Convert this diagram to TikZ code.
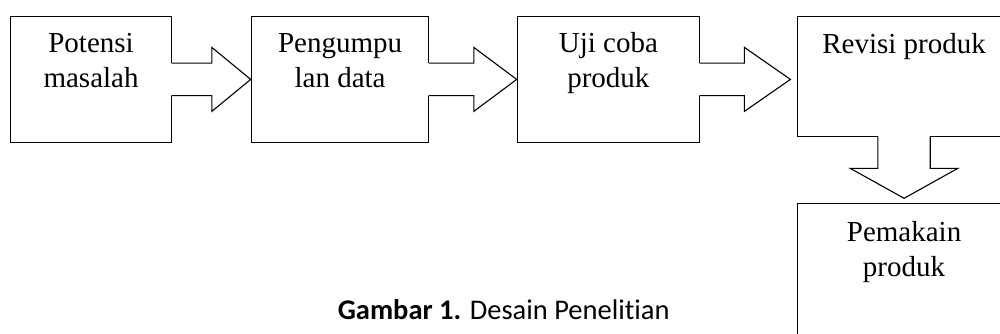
\documentclass[tikz,border=0pt]{standalone}
\usepackage{fontspec}
\setmainfont{Liberation Serif}
\newfontfamily\capfont[Ligatures=NoCommon]{Carlito}
\usetikzlibrary{calc}
\begin{document}
\begin{tikzpicture}[x=1pt,y=-1pt,
  box/.style={draw, line width=1.1pt, anchor=north west, inner sep=0pt},
  lbl/.style={align=center, anchor=base, inner sep=0pt, font=\fontsize{29}{35}\selectfont},
  arrowfill/.style={fill=white, draw=none},
  arrowline/.style={draw, line width=1.1pt, line join=miter}]
\useasboundingbox (0,0) rectangle (1000,334);
\clip (0,0) rectangle (1000,334);
% boxes
\node[box, minimum width=161pt, minimum height=126.3pt] (b1) at (10,15.7) {};
\node[box, minimum width=177.6pt, minimum height=126.3pt] (b2) at (250.7,15.7) {};
\node[box, minimum width=182.3pt, minimum height=126.3pt] (b3) at (516.7,15.7) {};
\node[box, minimum width=213.6pt, minimum height=120pt] (b4) at (796.7,15.7) {};
\node[box, minimum width=213.6pt, minimum height=150pt] (b5) at (796.7,203.3) {};
% labels (base = baseline of last line)
\node[lbl] (t1) at ($(b1.north)+(0,72.2)$) {Potensi\\masalah};
\node[lbl] (t2) at ($(b2.north)+(0,72.2)$) {Pengumpu\\lan data};
\node[lbl] (t3) at ($(b3.north)+(0,72.2)$) {Uji coba\\produk};
\node[lbl] (t4) at ($(b4.north)+(0,37.6)$) {Revisi produk};
\node[lbl] (t5) at ($(b5.north)+(0,73.4)$) {Pemakain\\produk};
% arrow 1
\coordinate (h1) at ($(b1.east)+(39.7,0)$);
\fill[arrowfill] ($(b1.east)+(-2,-16.2)$) -- ($(h1)+(0,-16.2)$) -- ($(h1)+(0,-32)$) -- (b2.west) -- ($(h1)+(0,32)$) -- ($(h1)+(0,16.2)$) -- ($(b1.east)+(-2,16.2)$) -- cycle;
\draw[arrowline] ($(b1.east)+(-0.55,-16.2)$) -- ($(h1)+(0,-16.2)$) -- ($(h1)+(0,-32)$) -- (b2.west) -- ($(h1)+(0,32)$) -- ($(h1)+(0,16.2)$) -- ($(b1.east)+(-0.55,16.2)$);
% arrow 2
\coordinate (h2) at ($(b2.east)+(44.4,0)$);
\fill[arrowfill] ($(b2.east)+(-2,-16.2)$) -- ($(h2)+(0,-16.2)$) -- ($(h2)+(0,-32)$) -- (b3.west) -- ($(h2)+(0,32)$) -- ($(h2)+(0,16.2)$) -- ($(b2.east)+(-2,16.2)$) -- cycle;
\draw[arrowline] ($(b2.east)+(-0.55,-16.2)$) -- ($(h2)+(0,-16.2)$) -- ($(h2)+(0,-32)$) -- (b3.west) -- ($(h2)+(0,32)$) -- ($(h2)+(0,16.2)$) -- ($(b2.east)+(-0.55,16.2)$);
% arrow 3
\coordinate (h3) at ($(b3.east)+(44.3,0)$);
\coordinate (tip3) at ($(b3.east)+(90.3,0)$);
\fill[arrowfill] ($(b3.east)+(-2,-16.2)$) -- ($(h3)+(0,-16.2)$) -- ($(h3)+(0,-32)$) -- (tip3) -- ($(h3)+(0,32)$) -- ($(h3)+(0,16.2)$) -- ($(b3.east)+(-2,16.2)$) -- cycle;
\draw[arrowline] ($(b3.east)+(-0.55,-16.2)$) -- ($(h3)+(0,-16.2)$) -- ($(h3)+(0,-32)$) -- (tip3) -- ($(h3)+(0,32)$) -- ($(h3)+(0,16.2)$) -- ($(b3.east)+(-0.55,16.2)$);
% down arrow
\coordinate (h4) at ($(b4.south)+(0,31.6)$);
\coordinate (tip4) at ($(b5.north)+(0,-5)$);
\fill[arrowfill] ($(b4.south)+(-26.2,-2)$) -- ($(h4)+(-26.2,0)$) -- ($(h4)+(-53.7,0)$) -- (tip4) -- ($(h4)+(53.7,0)$) -- ($(h4)+(26.2,0)$) -- ($(b4.south)+(26.2,-2)$) -- cycle;
\draw[arrowline] ($(b4.south)+(-26.2,-0.55)$) -- ($(h4)+(-26.2,0)$) -- ($(h4)+(-53.7,0)$) -- (tip4) -- ($(h4)+(53.7,0)$) -- ($(h4)+(26.2,0)$) -- ($(b4.south)+(26.2,-0.55)$);
% caption
\node[anchor=base, inner sep=0pt, font=\capfont\fontsize{28.5}{34}\selectfont] (cap) at (503.7,319) {\textbf{Gambar 1.} Desain Penelitian};
\end{tikzpicture}
\end{document}
